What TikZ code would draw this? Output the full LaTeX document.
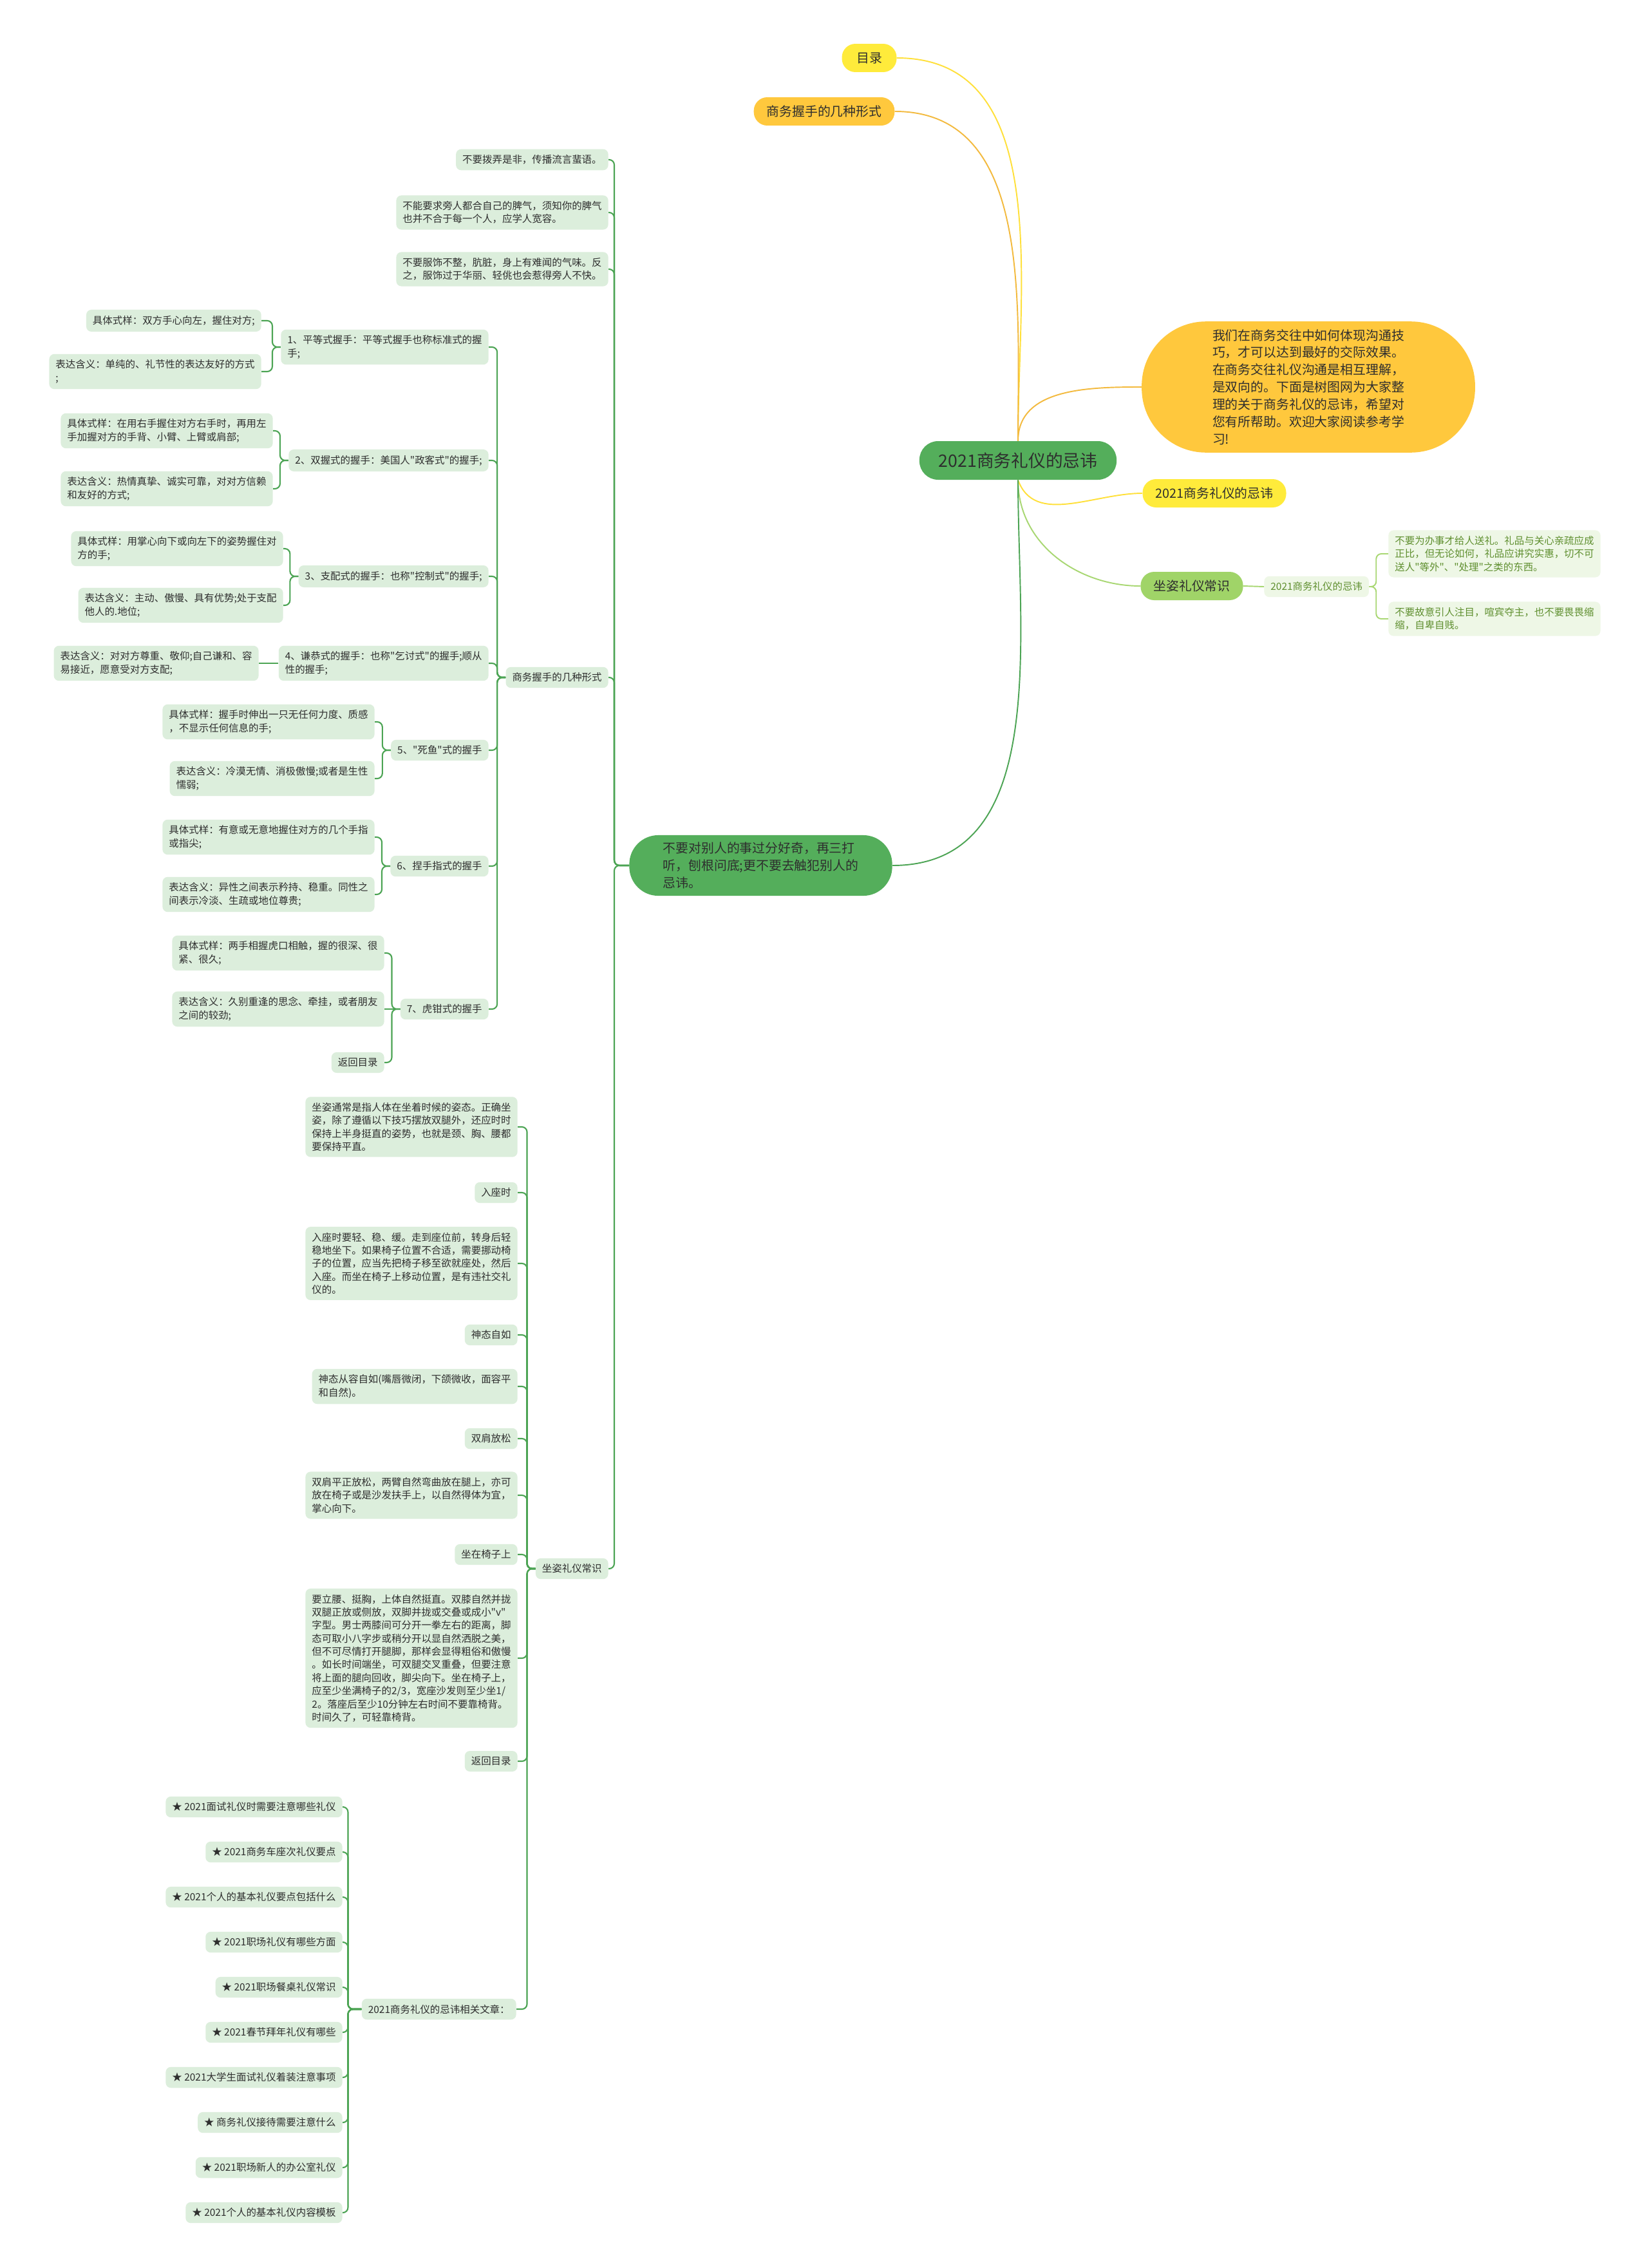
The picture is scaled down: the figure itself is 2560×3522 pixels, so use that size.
\documentclass[tikz,border=0pt]{standalone}
\usepackage{fontspec}
\newfontfamily\cjk{Noto Sans CJK SC}
\definecolor{leafbg}{HTML}{DCEEDC}
\definecolor{leaftxt}{HTML}{2E2E2E}
\definecolor{linkgreen}{HTML}{4CA454}
\definecolor{maingreen}{HTML}{54AE5B}
\definecolor{tocyellow}{HTML}{FFEB3B}
\definecolor{tabuorange}{HTML}{FFC83D}
\definecolor{sitgreen}{HTML}{A0D468}
\definecolor{paleleaf}{HTML}{EEF7E6}
\definecolor{paletxt}{HTML}{5F8F2F}
\definecolor{yline}{HTML}{FFE03A}
\definecolor{oline}{HTML}{F3BA3E}
\definecolor{gline}{HTML}{A8D772}
\newcommand\leaffont{\cjk\fontsize{8.8pt}{11.6pt}\selectfont}
\newcommand\midfont{\cjk\fontsize{11.3pt}{15.3pt}\selectfont}
\newcommand\topfont{\cjk\fontsize{15.2pt}{17pt}\selectfont}

\begin{document}
\begin{tikzpicture}[x=0.02cm, y=-0.02cm,
  leaf/.style={fill=leafbg, text=leaftxt, rounded corners=0.16cm, inner xsep=0.2cm, inner ysep=0.18cm, font=\leaffont, align=left},
  pleaf/.style={leaf, fill=paleleaf, text=paletxt},
  pill/.style={rounded corners=0.42cm, inner xsep=0.4cm, minimum height=0.88cm, font=\midfont, text=leaftxt},
  lk/.style={draw=linkgreen, line width=1.2pt, rounded corners=0.16cm},
  crv/.style={line width=1.1pt}]
  \fill[white] (0,0) rectangle (2560,3522);
  \useasboundingbox (0,0) rectangle (2560,3522);

  % centru
  \node[pill, fill=maingreen, font=\topfont, minimum height=1.2cm, rounded corners=0.58cm, inner xsep=0.6cm] (main) at (1581,715) {2021商务礼仪的忌讳};

  % dreapta
  \node[pill, fill=tocyellow, minimum width=1.7cm] (toc) at (1350,90) {目录};
  \node[pill, fill=tabuorange] (handr) at (1280,173) {商务握手的几种形式};
  \node[pill, fill=tabuorange, align=left, rounded corners=2cm, inner xsep=2.2cm, inner ysep=0.24cm] (intro) at (2032,601)
    {我们在商务交往中如何体现沟通技\\巧，才可以达到最好的交际效果。\\在商务交往礼仪沟通是相互理解，\\是双向的。下面是树图网为大家整\\理的关于商务礼仪的忌讳，希望对\\您有所帮助。欢迎大家阅读参考学\\习!};
  \node[pill, fill=tocyellow] (tabu) at (1886,766) {2021商务礼仪的忌讳};
  \node[pill, fill=sitgreen] (sitr) at (1851,910) {坐姿礼仪常识};
  \node[pleaf, anchor=west] (sitsub) at (1963,911) {2021商务礼仪的忌讳};
  \node[pleaf, anchor=west] (rl1) at (2156,860) {不要为办事才给人送礼。礼品与关心亲疏应成\\正比，但无论如何，礼品应讲究实惠，切不可\\送人"等外"、"处理"之类的东西。};
  \node[pleaf, anchor=west] (rl2) at (2156,961) {不要故意引人注目，喧宾夺主，也不要畏畏缩\\缩，自卑自贱。};

  \draw[crv, yline] (main.north) to[out=90, in=0] (toc.east);
  \draw[crv, oline] (main.north) to[out=90, in=0] (handr.east);
  \draw[crv, oline] (main.north) to[out=90, in=180] (intro.west);
  \draw[crv, yline] (main.south) to[out=-70, in=180] (tabu.west);
  \draw[crv, gline] (main.south) to[out=-90, in=180] (sitr.west);
  \draw[crv, gline] (sitr.east) -- (sitsub.west);
  \foreach \c in {rl1,rl2}
    \draw[crv, gline, rounded corners=0.16cm] (sitsub.east) -- ++(11,0) |- (\c.west);

  % stanga
  \node[pill, fill=maingreen, anchor=west, align=left, rounded corners=0.9cm, inner xsep=1.05cm, inner ysep=0.22cm] (curio) at (977,1344)
    {不要对别人的事过分好奇，再三打\\听，刨根问底;更不要去触犯别人的\\忌讳。};
  \draw[crv, linkgreen] (main.south) to[out=-90, in=0] (curio.east);

  \node[leaf, anchor=east] (g1) at (945,248) {不要拨弄是非，传播流言蜚语。};
  \node[leaf, anchor=east] (g2) at (945,330) {不能要求旁人都合自己的脾气，须知你的脾气\\也并不合于每一个人，应学人宽容。};
  \node[leaf, anchor=east] (g3) at (945,418) {不要服饰不整，肮脏，身上有难闻的气味。反\\之，服饰过于华丽、轻佻也会惹得旁人不快。};
  \node[leaf, anchor=east] (hand) at (945,1052) {商务握手的几种形式};
  \node[leaf, anchor=east] (sit) at (945,2436) {坐姿礼仪常识};
  \foreach \c in {g1,g2,g3,hand,sit}
    \draw[lk] (curio.west) -- ++(-23,0) |- (\c.east);

  % forme de strangere de mana
  \node[leaf, anchor=east] (h1) at (759,539) {1、平等式握手：平等式握手也称标准式的握\\手;};
  \node[leaf, anchor=east] (h2) at (759,715) {2、双握式的握手：美国人"政客式"的握手;};
  \node[leaf, anchor=east] (h3) at (759,895) {3、支配式的握手：也称"控制式"的握手;};
  \node[leaf, anchor=east] (h4) at (759,1030) {4、谦恭式的握手：也称"乞讨式"的握手;顺从\\性的握手;};
  \node[leaf, anchor=east] (h5) at (759,1165) {5、"死鱼"式的握手};
  \node[leaf, anchor=east] (h6) at (759,1345) {6、捏手指式的握手};
  \node[leaf, anchor=east] (h7) at (759,1567) {7、虎钳式的握手};
  \foreach \c in {h1,h2,h3,h4,h5,h6,h7}
    \draw[lk] (hand.west) -- ++(-13,0) |- (\c.east);

  \node[leaf, anchor=east] (h1a) at (406,498) {具体式样：双方手心向左，握住对方;};
  \node[leaf, anchor=east] (h1b) at (406,577) {表达含义：单纯的、礼节性的表达友好的方式\\;};
  \node[leaf, anchor=east] (h2a) at (424,669) {具体式样：在用右手握住对方右手时，再用左\\手加握对方的手背、小臂、上臂或肩部;};
  \node[leaf, anchor=east] (h2b) at (424,759) {表达含义：热情真挚、诚实可靠，对对方信赖\\和友好的方式;};
  \node[leaf, anchor=east] (h3a) at (440,852) {具体式样：用掌心向下或向左下的姿势握住对\\方的手;};
  \node[leaf, anchor=east] (h3b) at (440,940) {表达含义：主动、傲慢、具有优势;处于支配\\他人的.地位;};
  \node[leaf, anchor=east] (h4a) at (402,1030) {表达含义：对对方尊重、敬仰;自己谦和、容\\易接近，愿意受对方支配;};
  \node[leaf, anchor=east] (h5a) at (582,1121) {具体式样：握手时伸出一只无任何力度、质感\\，不显示任何信息的手;};
  \node[leaf, anchor=east] (h5b) at (582,1209) {表达含义：冷漠无情、消极傲慢;或者是生性\\懦弱;};
  \node[leaf, anchor=east] (h6a) at (582,1300) {具体式样：有意或无意地握住对方的几个手指\\或指尖;};
  \node[leaf, anchor=east] (h6b) at (582,1389) {表达含义：异性之间表示矜持、稳重。同性之\\间表示冷淡、生疏或地位尊贵;};
  \node[leaf, anchor=east] (h7a) at (597,1480) {具体式样：两手相握虎口相触，握的很深、很\\紧、很久;};
  \node[leaf, anchor=east] (h7b) at (597,1567) {表达含义：久别重逢的思念、牵挂，或者朋友\\之间的较劲;};
  \node[leaf, anchor=east] (h7c) at (597,1650) {返回目录};
  \foreach \p/\c in {h1/h1a, h1/h1b, h2/h2a, h2/h2b, h3/h3a, h3/h3b, h5/h5a, h5/h5b, h6/h6a, h6/h6b, h7/h7a, h7/h7c}
    \draw[lk] (\p.west) -- ++(-13,0) |- (\c.east);
  \draw[lk] (h4.west) -- (h4a.east);
  \draw[lk] (h7.west) -- (h7b.east);

  % postura sezut
  \node[leaf, anchor=east] (s1) at (804,1750) {坐姿通常是指人体在坐着时候的姿态。正确坐\\姿，除了遵循以下技巧摆放双腿外，还应时时\\保持上半身挺直的姿势，也就是颈、胸、腰都\\要保持平直。};
  \node[leaf, anchor=east] (s2) at (804,1852) {入座时};
  \node[leaf, anchor=east] (s3) at (804,1962) {入座时要轻、稳、缓。走到座位前，转身后轻\\稳地坐下。如果椅子位置不合适，需要挪动椅\\子的位置，应当先把椅子移至欲就座处，然后\\入座。而坐在椅子上移动位置，是有违社交礼\\仪的。};
  \node[leaf, anchor=east] (s4) at (804,2073) {神态自如};
  \node[leaf, anchor=east] (s5) at (804,2153) {神态从容自如(嘴唇微闭，下颌微收，面容平\\和自然)。};
  \node[leaf, anchor=east] (s6) at (804,2234) {双肩放松};
  \node[leaf, anchor=east] (s7) at (804,2322) {双肩平正放松，两臂自然弯曲放在腿上，亦可\\放在椅子或是沙发扶手上，以自然得体为宜，\\掌心向下。};
  \node[leaf, anchor=east] (s8) at (804,2414) {坐在椅子上};
  \node[leaf, anchor=east] (s9) at (804,2575) {要立腰、挺胸，上体自然挺直。双膝自然并拢\\双腿正放或侧放，双脚并拢或交叠或成小"v"\\字型。男士两膝间可分开一拳左右的距离，脚\\态可取小八字步或稍分开以显自然洒脱之美，\\但不可尽情打开腿脚，那样会显得粗俗和傲慢\\。如长时间端坐，可双腿交叉重叠，但要注意\\将上面的腿向回收，脚尖向下。坐在椅子上，\\应至少坐满椅子的2/3，宽座沙发则至少坐1/\\2。落座后至少10分钟左右时间不要靠椅背。\\时间久了，可轻靠椅背。};
  \node[leaf, anchor=east] (s10) at (804,2735) {返回目录};
  \node[leaf, anchor=east] (rel) at (802,3120) {2021商务礼仪的忌讳相关文章：};
  \foreach \c in {s1,s2,s3,s4,s5,s6,s7,s8,s9,s10,rel}
    \draw[lk] (sit.west) -- ++(-13,0) |- (\c.east);

  % articole
  \foreach \i/\lbl in {1/2021面试礼仪时需要注意哪些礼仪, 2/2021商务车座次礼仪要点, 3/2021个人的基本礼仪要点包括什么, 4/2021职场礼仪有哪些方面, 5/2021职场餐桌礼仪常识, 6/2021春节拜年礼仪有哪些, 7/2021大学生面试礼仪着装注意事项, 8/商务礼仪接待需要注意什么, 9/2021职场新人的办公室礼仪, 10/2021个人的基本礼仪内容模板}{
    \node[leaf, anchor=east] (r\i) at (532,{2736+70*\i}) {★ \lbl};
    \draw[lk] (rel.west) -- ++(-21,0) |- (r\i.east);
  }
\end{tikzpicture}
\end{document}
